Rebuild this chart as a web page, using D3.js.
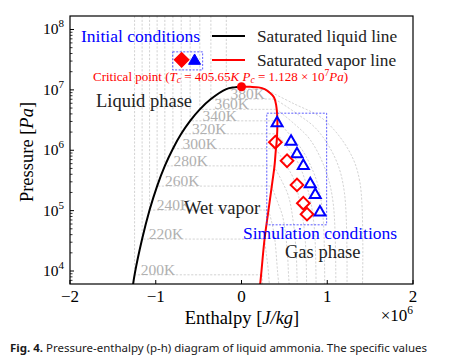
<!DOCTYPE html>
<html><head><meta charset="utf-8">
<script src="https://cdn.jsdelivr.net/npm/d3@7"></script>
<style>body{margin:0;background:#fff}svg{display:block}</style>
</head><body><script>
// ---------- data (h in 10^6 J/kg, p in Pa) ----------
const xTicks = [-2, -1, 0, 1, 2];
const yTicks = [1e4, 1e5, 1e6, 1e7, 1e8];
const liquidLine = [[-1.268,5.5e3],[-1.247,8.65e3],[-1.159,3.38e4],[-1.072,1.022e5],[-0.984,2.55e5],[-0.894,5.51e5],[-0.800,1.061e6],[-0.703,1.872e6],[-0.599,3.07e6],[-0.486,4.76e6],[-0.357,7.05e6],[-0.177,1.03e7],[-0.085,1.10e7],[0,1.128e7]];
const vaporLine = [[0,1.128e7],[0.10,1.122e7],[0.20,1.10e7],[0.27,1.03e7],[0.33,9.0e6],[0.38,7.5e6],[0.405,5.5e6],[0.418,3.2e6],[0.412,1.5e6],[0.400,1.0e6],[0.385,5.5e5],[0.36,3.0e5],[0.314,1.0e5],[0.267,3.2e4],[0.233,1.0e4],[0.215,5.5e3]];
const isoTemps = [200,220,240,260,280,300,320,340,360,380,400];
const isoPsat  = [8.65e3,3.38e4,1.022e5,2.55e5,5.51e5,1.061e6,1.872e6,3.07e6,4.76e6,7.05e6,1.03e7];
const isoHl    = [-1.247,-1.159,-1.072,-0.984,-0.894,-0.800,-0.703,-0.599,-0.486,-0.357,-0.177];
const isoGas = [
 [[0.24,8.65e3],[0.245,5e3]],
 [[0.268,3.38e4],[0.29,1.9e4],[0.31,1.1e4],[0.325,6e3],[0.33,5e3]],
 [[0.315,1.022e5],[0.36,5.8e4],[0.39,3.2e4],[0.42,1.0e4],[0.44,5e3]],
 [[0.35,2.55e5],[0.42,1.4e5],[0.48,8e4],[0.53,2.5e4],[0.55,8e3],[0.56,5e3]],
 [[0.375,5.51e5],[0.47,3.1e5],[0.55,1.7e5],[0.61,5.5e4],[0.64,1.7e4],[0.65,5e3]],
 [[0.40,1.061e6],[0.51,6e5],[0.61,3.3e5],[0.70,1.0e5],[0.745,3e4],[0.76,5e3]],
 [[0.413,1.872e6],[0.55,1.05e6],[0.67,5.8e5],[0.79,1.8e5],[0.85,5e4],[0.87,5e3]],
 [[0.418,3.07e6],[0.58,1.7e6],[0.72,9.5e5],[0.88,3e5],[0.95,8e4],[0.97,5e3]],
 [[0.41,4.76e6],[0.62,2.7e6],[0.80,1.5e6],[0.98,4.7e5],[1.07,1.3e5],[1.1,5e3]],
 [[0.39,7.05e6],[0.65,4e6],[0.88,2.2e6],[1.10,7e5],[1.2,2e5],[1.23,5e3]],
 [[0.27,1.03e7],[0.60,6e6],[0.95,3.3e6],[1.25,1.0e6],[1.38,3e5],[1.41,5e3]]
];
const simTriangles = [[0.415,2.92e6],[0.578,1.45e6],[0.647,8.96e5],[0.721,5.73e5],[0.802,2.85e5],[0.860,1.90e5],[0.915,9.7e4]];
const simDiamonds  = [[0.395,1.36e6],[0.531,6.7e5],[0.647,2.67e5],[0.721,1.33e5],[0.764,8.75e4]];
const initDiamond  = [[-0.698,3.14e7]];
const initTriangle = [[-0.547,3.14e7]];
const simBox  = [[0.295,4.11e6],[0.993,5.82e4]];
const initBox = [[-0.802,4.26e7],[-0.453,2.14e7]];
const critical = [0, 1.128e7];

// ---------- layout ----------
const W = 452, H = 357;
const L = 70, R = 413, T = 16, B = 284;
const x = d3.scaleLinear().domain([-2, 2]).range([L, R]);
const y = d3.scaleLog().domain([Math.pow(10,3.7847), Math.pow(10,8.2236)]).range([B, T]);
const serif = "'Liberation Serif', 'DejaVu Serif', serif";

const svg = d3.select("body").append("svg").attr("width", W).attr("height", H)
  .style("font-family", serif);
svg.append("defs").append("clipPath").attr("id","clip")
  .append("rect").attr("x",L).attr("y",T).attr("width",R-L).attr("height",B-T);
const plot = svg.append("g").attr("clip-path","url(#clip)");

const line = d3.line().x(d => x(d[0])).y(d => y(d[1]));
const smooth = d3.line().x(d => x(d[0])).y(d => y(d[1])).curve(d3.curveCatmullRom.alpha(0.5));

// isotherms
const isoColor = "#c8c8c8";
isoTemps.forEach((t, i) => {
  const hl = isoHl[i], ps = isoPsat[i], gas = isoGas[i];
  plot.append("path").attr("d", line([[hl, y.domain()[1]], [hl, ps], [gas[0][0], ps]]))
    .attr("fill","none").attr("stroke",isoColor).attr("stroke-width",0.8).attr("stroke-dasharray","2.2,1.6");
  plot.append("path").attr("d", smooth(gas))
    .attr("fill","none").attr("stroke",isoColor).attr("stroke-width",0.8).attr("stroke-dasharray","2.2,1.6");
});
function liquidHAt(p) {
  const lp = Math.log10(p);
  for (let k = 0; k < liquidLine.length - 1; k++) {
    const a = liquidLine[k], b = liquidLine[k+1];
    const la = Math.log10(a[1]), lb = Math.log10(b[1]);
    if (lp >= la && lp <= lb) return a[0] + (b[0]-a[0]) * (lp-la)/(lb-la);
  }
  return liquidLine[liquidLine.length-1][0];
}
isoTemps.forEach((t, i) => {
  if (t === 400) return;
  const yy = y(isoPsat[i]);
  const xx = x(liquidHAt(y.invert(yy - 10))) + 4;
  plot.append("text").attr("x", xx).attr("y", yy).attr("font-size", 15.5)
    .attr("fill", "#b0b0b0").text(t + "K");
});

// saturation lines
plot.append("path").attr("d", smooth(liquidLine)).attr("fill","none").attr("stroke","#000").attr("stroke-width",2);
plot.append("path").attr("d", smooth(vaporLine)).attr("fill","none").attr("stroke","#ff0000").attr("stroke-width",2);
plot.append("circle").attr("cx", x(critical[0])).attr("cy", y(critical[1])).attr("r", 4.5).attr("fill","#ff0000");

// boxes
[simBox, initBox].forEach(bx => {
  svg.append("rect").attr("x", x(bx[0][0])).attr("y", y(bx[0][1]))
    .attr("width", x(bx[1][0]) - x(bx[0][0])).attr("height", y(bx[1][1]) - y(bx[0][1]))
    .attr("fill","none").attr("stroke","#3333ff").attr("stroke-width",0.8).attr("stroke-dasharray","2,1.5");
});

// markers
const tri = d3.symbol().type(d3.symbolTriangle).size(52);
const dia = d3.symbol().type(d3.symbolSquare).size(80);
svg.selectAll(".st").data(simTriangles).join("path")
  .attr("transform", d => `translate(${x(d[0])},${y(d[1])+1})`).attr("d", tri())
  .attr("fill","none").attr("stroke","#0000ff").attr("stroke-width",2);
svg.selectAll(".sd").data(simDiamonds).join("path")
  .attr("transform", d => `translate(${x(d[0])},${y(d[1])}) rotate(45)`).attr("d", dia())
  .attr("fill","none").attr("stroke","#ff0000").attr("stroke-width",2);
svg.selectAll(".id").data(initDiamond).join("path")
  .attr("transform", d => `translate(${x(d[0])},${y(d[1])}) rotate(45)`).attr("d", d3.symbol().type(d3.symbolSquare).size(100)())
  .attr("fill","#ff0000").attr("stroke","#ff0000").attr("stroke-width",1.5);
svg.selectAll(".it").data(initTriangle).join("path")
  .attr("transform", d => `translate(${x(d[0])},${y(d[1])+1})`).attr("d", d3.symbol().type(d3.symbolTriangle).size(62)())
  .attr("fill","#0000ff").attr("stroke","#0000ff").attr("stroke-width",1);

// frame
svg.append("rect").attr("x",L).attr("y",T).attr("width",R-L).attr("height",B-T)
  .attr("fill","none").attr("stroke","#000").attr("stroke-width",1.2);

// x ticks
xTicks.forEach(v => {
  svg.append("line").attr("x1",x(v)).attr("x2",x(v)).attr("y1",B).attr("y2",B-4).attr("stroke","#000");
  svg.append("text").attr("x",x(v)).attr("y",302).attr("text-anchor","middle").attr("font-size",17)
    .text(v < 0 ? "\u2212" + Math.abs(v) : String(v));
});
// y ticks (major + minor)
yTicks.forEach(v => {
  svg.append("line").attr("x1",L).attr("x2",L+4).attr("y1",y(v)).attr("y2",y(v)).attr("stroke","#000");
  const t = svg.append("text").attr("x",64).attr("y",y(v)+5).attr("text-anchor","end").attr("font-size",15.5);
  t.append("tspan").text("10");
  t.append("tspan").attr("dy",-7).attr("font-size",11).text(Math.round(Math.log10(v)));
});
for (let e = 3; e <= 8; e++) for (let m = 2; m <= 9; m++) {
  const v = m * Math.pow(10, e);
  if (v < y.domain()[0] || v > y.domain()[1]) continue;
  svg.append("line").attr("x1",L).attr("x2",L+2.5).attr("y1",y(v)).attr("y2",y(v)).attr("stroke","#000").attr("stroke-width",0.8);
}
// axis labels
const xl = svg.append("text").attr("x", 242).attr("y", 324).attr("text-anchor","middle").attr("font-size",18.5);
xl.append("tspan").text("Enthalpy [");
xl.append("tspan").attr("font-style","italic").text("J/kg");
xl.append("tspan").text("]");
const yl = svg.append("text").attr("transform","translate(33,152) rotate(-90)").attr("text-anchor","middle").attr("font-size",18.5);
yl.append("tspan").text("Pressure [");
yl.append("tspan").attr("font-style","italic").text("Pa");
yl.append("tspan").text("]");
const mult = svg.append("text").attr("x", 413).attr("y", 321).attr("text-anchor","end").attr("font-size",17);
mult.append("tspan").text("\u00d710");
mult.append("tspan").attr("dy",-7).attr("font-size",11.5).text("6");

// annotations
const ct = svg.append("text").attr("x", 93).attr("y", 81).attr("font-size", 13).attr("fill","#ff0000");
ct.append("tspan").text("Critical point (");
ct.append("tspan").attr("font-style","italic").text("T");
ct.append("tspan").attr("font-style","italic").attr("font-size",9.5).attr("dy",2).text("c");
ct.append("tspan").attr("dy",-2).text(" = 405.65");
ct.append("tspan").attr("font-style","italic").text("K P");
ct.append("tspan").attr("font-style","italic").attr("font-size",9.5).attr("dy",2).text("c");
ct.append("tspan").attr("dy",-2).text(" = 1.128 \u00d7 10");
ct.append("tspan").attr("font-size",9.5).attr("dy",-5).text("7");
ct.append("tspan").attr("dy",5).attr("font-style","italic").text("Pa");
ct.append("tspan").text(")");

svg.append("text").attr("x",96).attr("y",107).attr("font-size",18.5).attr("fill","#222").text("Liquid phase");
svg.append("text").attr("x",184).attr("y",214).attr("font-size",18.5).attr("fill","#222").text("Wet vapor");
svg.append("text").attr("x",243).attr("y",239).attr("font-size",17.5).attr("fill","#0000ff").text("Simulation conditions");
svg.append("text").attr("x",285).attr("y",258).attr("font-size",18.5).attr("fill","#222").text("Gas phase");
svg.append("text").attr("x",81).attr("y",42).attr("font-size",17.5).attr("fill","#0000ff").text("Initial conditions");

// legend
svg.append("line").attr("x1",212).attr("x2",245).attr("y1",36).attr("y2",36).attr("stroke","#000").attr("stroke-width",2);
svg.append("text").attr("x",257).attr("y",42).attr("font-size",17.3).attr("fill","#222").text("Saturated liquid line");
svg.append("line").attr("x1",212).attr("x2",245).attr("y1",60).attr("y2",60).attr("stroke","#ff0000").attr("stroke-width",2);
svg.append("text").attr("x",257).attr("y",66).attr("font-size",17.3).attr("fill","#222").text("Saturated vapor line");

// caption
const cap = svg.append("text").attr("x",10).attr("y",352).attr("font-size",10.8)
  .style("font-family","'Noto Sans', 'DejaVu Sans', sans-serif").attr("fill","#1a1a1a")
  .attr("textLength", 417).attr("lengthAdjust","spacingAndGlyphs");
cap.append("tspan").attr("font-weight","bold").text("Fig. 4.");
cap.append("tspan").text("  Pressure-enthalpy (p-h) diagram of liquid ammonia. The specific values");
</script></body></html>
